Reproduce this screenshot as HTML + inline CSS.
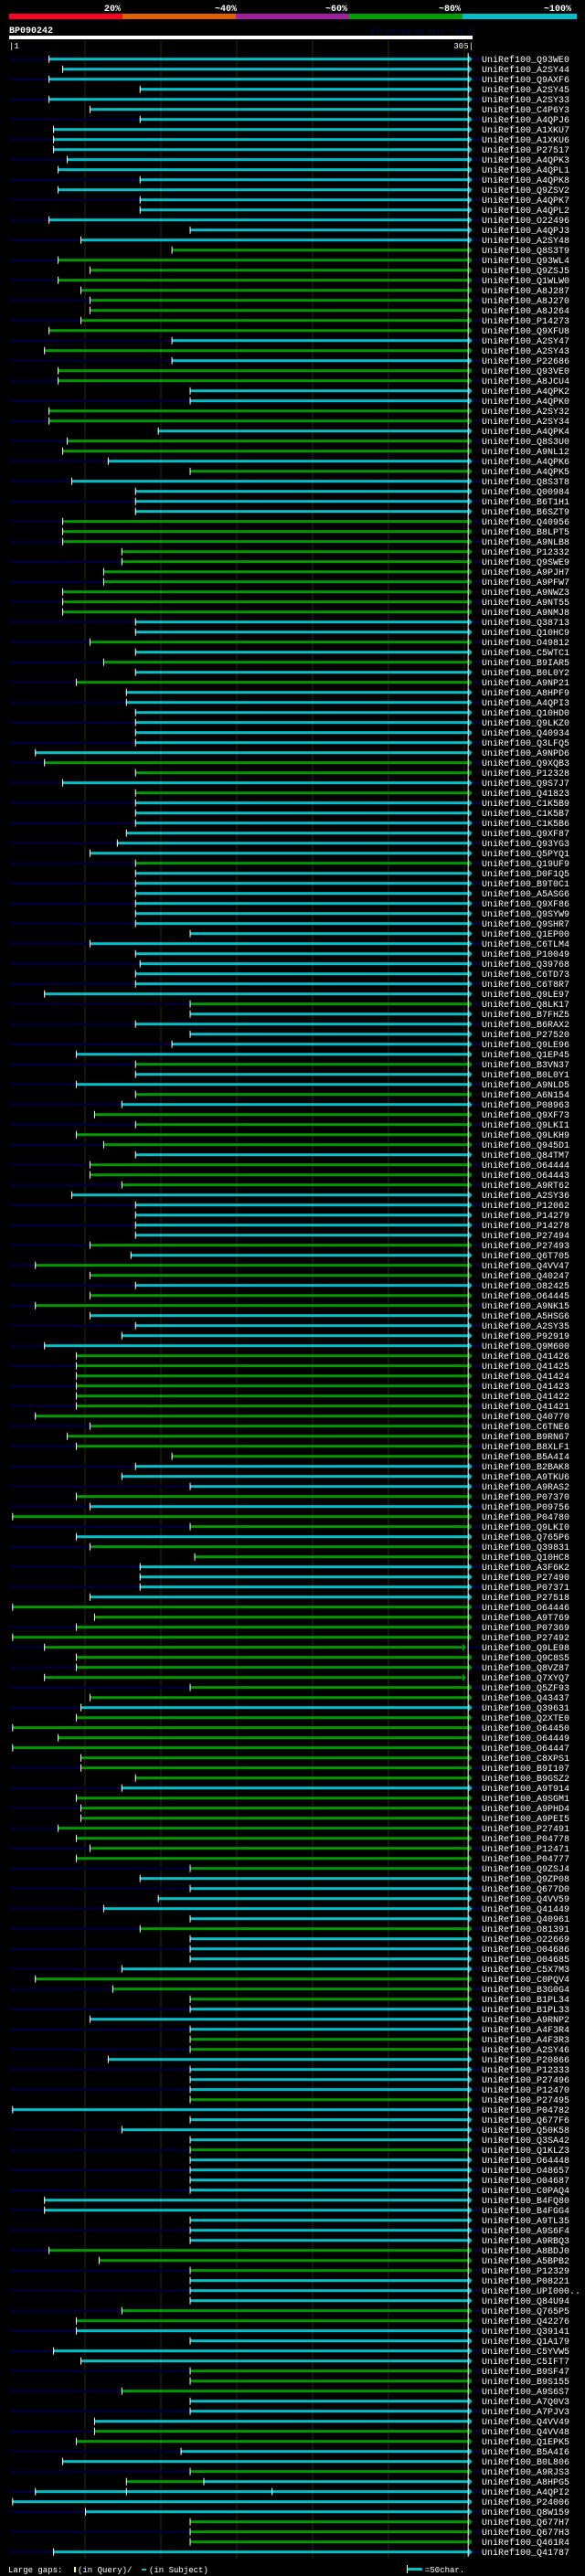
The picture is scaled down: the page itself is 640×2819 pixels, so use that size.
<!DOCTYPE html>
<html><head><meta charset="utf-8">
<style>
html,body{margin:0;padding:0;background:#000;}
svg{display:block;}
text{font-family:"Liberation Mono","DejaVu Sans Mono",monospace;}
</style></head>
<body>
<svg id="chart" width="640" height="2819" viewBox="0 0 640 2819" xmlns="http://www.w3.org/2000/svg">
  <rect x="0" y="0" width="640" height="2819" fill="#000"/>
  <g>
    <rect x="10" y="15" width="124" height="6" fill="#ff0022"/>
    <rect x="134" y="15" width="124" height="6" fill="#e06000"/>
    <rect x="258" y="15" width="124" height="6" fill="#a020a0"/>
    <rect x="382" y="15" width="124" height="6" fill="#00a000"/>
    <rect x="506" y="15" width="125" height="6" fill="#00c0c8"/>
    <text x="123" y="12" fill="#fff" font-size="10" font-weight="bold" text-anchor="middle">20%</text>
    <text x="247" y="12" fill="#fff" font-size="10" font-weight="bold" text-anchor="middle">~40%</text>
    <text x="368" y="12" fill="#fff" font-size="10" font-weight="bold" text-anchor="middle">~60%</text>
    <text x="492" y="12" fill="#fff" font-size="10" font-weight="bold" text-anchor="middle">~80%</text>
    <text x="610" y="12" fill="#fff" font-size="10" font-weight="bold" text-anchor="middle">~100%</text>
  </g>
  <text x="10" y="36" fill="#fff" font-size="10" font-weight="bold">BP090242</text>
  <text x="516" y="37" fill="#0a0a50" font-size="8" text-anchor="end">AlignView.pm Beta rel.7</text>
  <rect x="10" y="39" width="507" height="4" fill="#fff"/>
  <text x="10" y="53" fill="#fff" font-size="9">|1</text>
  <text x="518" y="53" fill="#fff" font-size="9" text-anchor="end">305|</text>
  <g id="grid"></g>
  <g id="rows"></g>
  <g>
    <text x="9" y="2815" fill="#fff" font-size="9">Large gaps:</text>
    <rect x="81" y="2809" width="2" height="6" fill="#ffff66"/>
    <text x="85" y="2815" fill="#fff" font-size="9">(in Query)/</text>
    <rect x="155" y="2811" width="5" height="2" fill="#00c0c8"/>
    <text x="163" y="2815" fill="#fff" font-size="9">(in Subject)</text>
    <rect x="445" y="2807" width="1" height="9" fill="#fff"/>
    <rect x="446" y="2810" width="16" height="3" fill="#00c0c8"/>
    <text x="465" y="2815" fill="#fff" font-size="9">=50char.</text>
  </g>
</svg>
<script>
const names = ["Q93WE0","A2SY44","Q9AXF6","A2SY45","A2SY33","C4P6Y3","A4QPJ6","A1XKU7","A1XKU6","P27517","A4QPK3","A4QPL1","A4QPK8","Q9ZSV2","A4QPK7","A4QPL2","O22496","A4QPJ3","A2SY48","Q8S3T9","Q93WL4","Q9ZSJ5","Q1WLW0","A8J287","A8J270","A8J264","P14273","Q9XFU8","A2SY47","A2SY43","P22686","Q93VE0","A8JCU4","A4QPK2","A4QPK0","A2SY32","A2SY34","A4QPK4","Q8S3U0","A9NL12","A4QPK6","A4QPK5","Q8S3T8","Q00984","B6T1H1","B6SZT9","Q40956","B8LPT5","A9NLB8","P12332","Q9SWE9","A9PJH7","A9PFW7","A9NWZ3","A9NT55","A9NMJ8","Q38713","Q10HC9","O49812","C5WTC1","B9IAR5","B0L0Y2","A9NP21","A8HPF9","A4QPI3","Q10HD0","Q9LKZ0","Q40934","Q3LFQ5","A9NPD6","Q9XQB3","P12328","Q9S7J7","Q41823","C1K5B9","C1K5B7","C1K5B6","Q9XF87","Q93YG3","Q5PYQ1","Q19UF9","D0F1Q5","B9T0C1","A5ASG6","Q9XF86","Q9SYW9","Q9SHR7","Q1EP00","C6TLM4","P10049","Q39768","C6TD73","C6T8R7","Q9LE97","Q8LK17","B7FHZ5","B6RAX2","P27520","Q9LE96","Q1EP45","B3VN37","B0L0Y1","A9NLD5","A6N154","P08963","Q9XF73","Q9LKI1","Q9LKH9","Q945D1","Q84TM7","O64444","O64443","A9RT62","A2SY36","P12062","P14279","P14278","P27494","P27493","Q6T705","Q4VV47","Q40247","O82425","O64445","A9NK15","A5HSG6","A2SY35","P92919","Q9M600","Q41426","Q41425","Q41424","Q41423","Q41422","Q41421","Q40770","C6TNE6","B9RN67","B8XLF1","B5A4I4","B2BAK8","A9TKU6","A9RAS2","P07370","P09756","P04780","Q9LKI0","Q765P6","Q39831","Q10HC8","A3F6K2","P27490","P07371","P27518","O64446","A9T769","P07369","P27492","Q9LE98","Q9C8S5","Q8VZ87","Q7XYQ7","Q5ZF93","Q43437","Q39631","Q2XTE0","O64450","O64449","O64447","C8XPS1","B9I107","B9GSZ2","A9T914","A9SGM1","A9PHD4","A9PEI5","P27491","P04778","P12471","P04777","Q9ZSJ4","Q9ZP08","Q677D0","Q4VV59","Q41449","Q40961","O81391","O22669","O04686","O04685","C5X7M3","C0PQV4","B3G0G4","B1PL34","B1PL33","A9RNP2","A4F3R4","A4F3R3","A2SY46","P20866","P12333","P27496","P12470","P27495","P04782","Q677F6","Q50K58","Q3SA42","Q1KLZ3","O64448","O48657","O04687","C0PAQ4","B4FQ80","B4FGG4","A9TL35","A9S6F4","A9RBQ3","A8BDJ0","A5BPB2","P12329","P08221","UPI000..","Q84U94","Q765P5","Q42276","Q39141","Q1A179","C5YVW5","C5IFT7","B9SF47","B9S155","A9S6S7","A7Q0V3","A7PJV3","Q4VV49","Q4VV48","Q1EPK5","B5A4I6","B0L806","A9RJS3","A8HPG5","A4QPI2","P24006","Q8W159","Q677H7","Q677H3","Q461R4","Q41787"];
const starts = [27,36,27,87,27,54,87,30,30,30,39,33,87,33,87,87,27,120,48,108,33,54,33,48,54,54,48,27,108,24,108,33,33,120,120,27,27,99,39,36,66,120,42,84,84,84,36,36,36,75,75,63,63,36,36,36,84,84,54,84,63,84,45,78,78,84,84,84,84,18,24,84,36,84,84,84,84,78,72,54,84,84,84,84,84,84,84,120,54,84,87,84,84,24,120,120,84,120,108,45,84,84,45,84,75,57,84,45,63,84,54,54,75,42,84,84,84,84,54,81,18,54,84,54,18,54,84,75,24,45,45,45,45,45,45,18,54,39,45,108,84,75,120,45,54,3,120,45,54,123,87,87,87,54,3,57,45,3,24,45,45,24,120,54,48,45,3,33,3,48,48,84,75,45,48,48,33,45,54,45,120,87,120,99,63,120,87,120,120,120,75,18,69,120,120,54,120,120,120,66,120,120,120,120,3,120,75,120,120,120,120,120,120,24,24,120,120,120,27,60,120,120,120,120,75,45,45,120,30,48,120,120,75,120,120,57,57,45,114,36,120,78,18,3,51,120,120,120,30];
const colorCodes = "cccccccccccccccccccgggggggggcgcggccggcggcgccccggggggggggccgcgcgcccccccggcgccccccgcccccccccccccgcccccgccgcggggcgggcccccgcggcggccccgggggggggggcccgcggcggccccggggggggggcgggggggcggggggggcccccgccccgggcccggccccgccccgcccccccccgggcccggccccgggcccggccggcccgggccccgggccgggcccg";
const ends = {158:301, 161:301};
const splits = {241:129, 242:174};
const gridTicks = [51,101,151,201,251,301];

const COLORS = {c:"#00c0c8", g:"#009a00"};
const X0 = 10, SCALE = 1.66;
function xPos(p){ return X0 + (p-1)*SCALE; }
function rowY(i){ return 64.7 + i*11; }
const NS = "http://www.w3.org/2000/svg";
function mk(tag, attrs, parent){
  const e = document.createElementNS(NS, tag);
  for (const k in attrs) e.setAttribute(k, attrs[k]);
  parent.appendChild(e);
  return e;
}
const grid = document.getElementById('grid');
gridTicks.forEach(t => {
  const l = mk('rect', {x: xPos(t)-0.5, y: 44, width: 1, height: 2756, fill: '#2e2e00'}, grid);
  
  
});
const rows = document.getElementById('rows');
const endX = xPos(305) - 3;
for (let i = 0; i < names.length; i++){
  const y = rowY(i);
  const g = mk('g', {}, rows);
  
  
  if (i % 2 === 0) mk('rect', {x: 10, y: y-1.5, width: 520, height: 3, fill: '#000030'}, g);
  const col = COLORS[colorCodes[i]] || COLORS.c;
  const s = xPos(starts[i]);
  const e = xPos(ends[i] || 305) - 3;
  const sp = splits[i];
  if (sp){
    const m = xPos(sp);
    mk('rect', {x: s, y: y-1.5, width: m-s, height: 3, fill: col}, g);
    mk('rect', {x: m, y: y-1.5, width: e-m, height: 3, fill: COLORS.c}, g);
    mk('rect', {x: m, y: y-4, width: 1, height: 8, fill: '#fff'}, g);
    mk('polygon', {points: `${e+1},${y-4} ${e+5},${y} ${e+1},${y+4}`, fill: COLORS.c}, g);
  } else {
    const bar = mk('rect', {x: s, y: y-1.5, width: e-s, height: 3, fill: col}, g);
    
    
    mk('polygon', {points: `${e+1},${y-4} ${e+5},${y} ${e+1},${y+4}`, fill: col}, g);
  }
  if (i === 242) mk('rect', {x: xPos(78), y: y-4, width: 1, height: 8, fill: '#fff'}, g);
  mk('rect', {x: s, y: y-4, width: 1, height: 8, fill: '#fff'}, g);
  const t = mk('text', {x: 527, y: y+3.5, fill: '#fff', 'font-size': 10}, g);
  
  
  t.textContent = 'UniRef100_' + names[i];
}
const endLine = mk('rect', {x: endX, y: 58, width: 1, height: 2740, fill: '#fff'}, rows);


</script>
</body></html>
